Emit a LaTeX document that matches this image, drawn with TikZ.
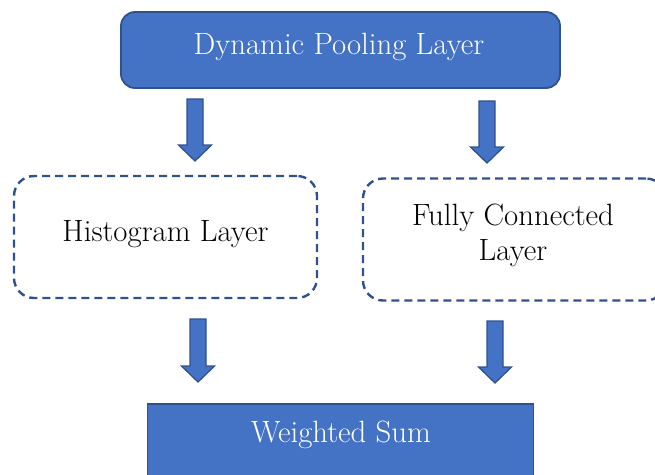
\documentclass[tikz,border=0pt]{standalone}
\usepackage{fontspec}
\usetikzlibrary{calc}
\definecolor{ofblue}{HTML}{4472C4}
\definecolor{ofdark}{HTML}{2F528F}
\tikzset{
  bluebox/.style={draw=ofdark, fill=ofblue, line width=1.8pt, inner sep=0pt},
  dashbox/.style={draw=ofdark, line width=2.4pt, dash pattern=on 8pt off 5pt, rounded corners=20pt, inner sep=0pt, minimum width=303pt, minimum height=122pt},
  lbl/.style={font=\fontsize{30.8}{35}\selectfont, anchor=base, inner sep=0pt, align=center},
  blockarr/.style={draw=ofdark, fill=ofblue, line width=1.3pt, line join=miter}
}
\newcommand{\blkarrow}[2]{%
  \draw[blockarr] ($(#1)+(-8,0)$) -- ($(#2)+(-8,-16)$) -- ($(#2)+(-16.5,-16)$) -- (#2)
    -- ($(#2)+(16.5,-16)$) -- ($(#2)+(8,-16)$) -- ($(#1)+(8,0)$) -- cycle;}
\begin{document}
\begin{tikzpicture}[x=1pt, y=-1pt]
\useasboundingbox (0,0) rectangle (655,474);
\clip (0,0) rectangle (655,474);
% top box
\node[bluebox, rounded corners=14pt, minimum width=439pt, minimum height=76pt] (pool) at (340.5,50) {};
\node[lbl, text=white] (poolt) at (339,54) {Dynamic Pooling Layer};
% dashed boxes
\node[dashbox] (hist) at (165.5,237) {};
\node[lbl] (histt) at (165.5,241) {Histogram Layer};
\node[dashbox] (fc) at (514.5,239.5) {};
\node[lbl] (fct) at (513,260) {Fully Connected\\Layer};
% bottom box
\node[bluebox, minimum width=386pt, minimum height=120pt] (sum) at (340.5,464) {};
\node[lbl, text=white] (sumt) at (341,442) {Weighted Sum};
% arrows
\coordinate (a1s) at (195,99);  \coordinate (a1e) at (195,161);
\coordinate (a2s) at (487,101); \coordinate (a2e) at (487,163);
\coordinate (a3s) at (198,319); \coordinate (a3e) at (198,382);
\coordinate (a4s) at (495,321); \coordinate (a4e) at (495,383);
\blkarrow{a1s}{a1e}
\blkarrow{a2s}{a2e}
\blkarrow{a3s}{a3e}
\blkarrow{a4s}{a4e}
\end{tikzpicture}
\end{document}
